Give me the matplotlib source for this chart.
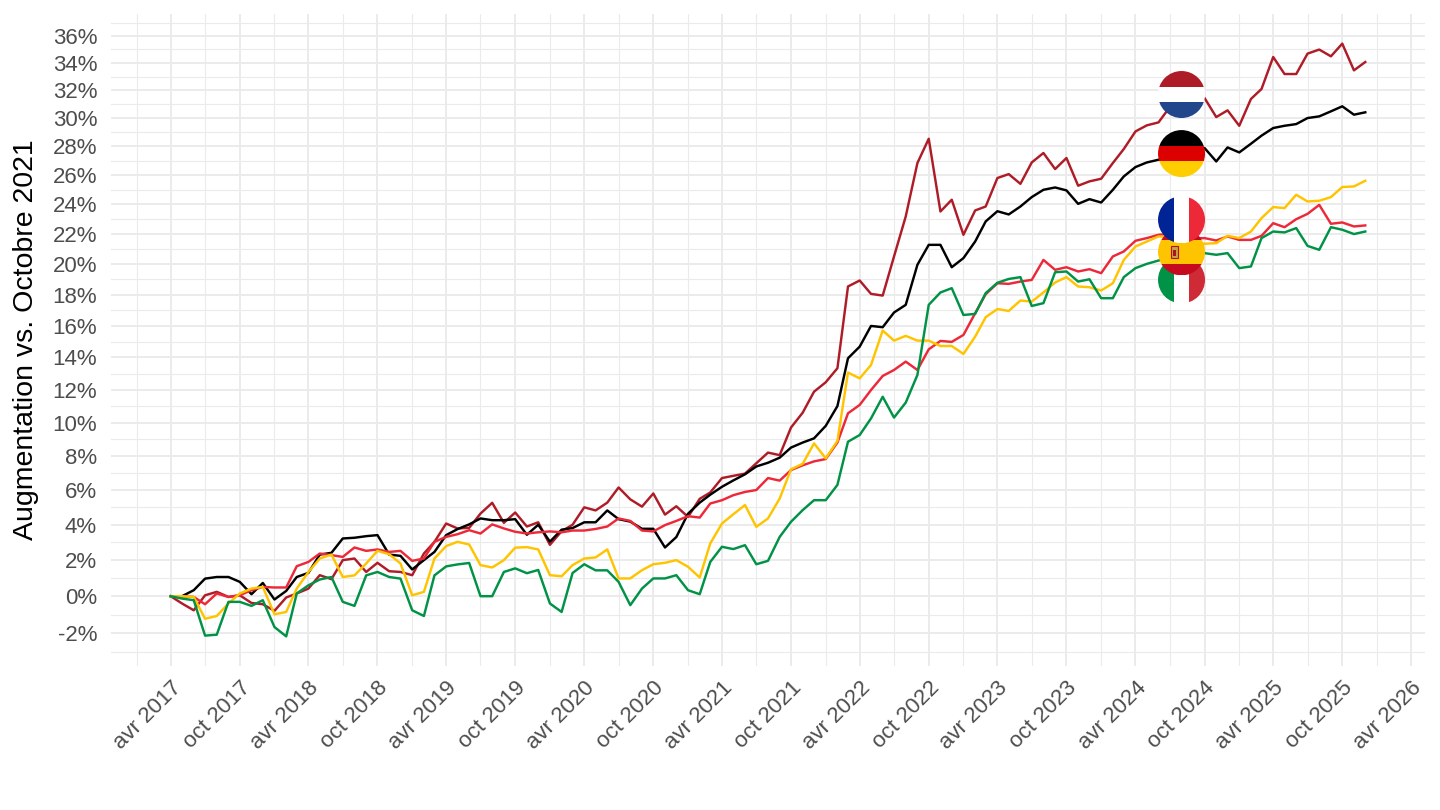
import numpy as np
import pandas as pd
import matplotlib
matplotlib.use('Agg')
import matplotlib.pyplot as plt
import matplotlib.dates as mdates
from matplotlib.patches import Rectangle, Circle
from matplotlib.ticker import FixedLocator, FixedFormatter, NullFormatter

plt.rcParams['font.family'] = ['Liberation Sans', 'DejaVu Sans']

# monthly series, % change, Apr 2017 -> Dec 2025
months = pd.date_range('2017-04-01', '2025-12-01', freq='MS')

netherlands = [0, -0.4, -0.77, 0.05, 0.24, -0.04, 0.05, -0.37, -0.44, -0.8,
               -0.07, 0.15, 0.42, 1.16, 0.94, 2.0, 2.09, 1.34, 1.85, 1.38,
               1.34, 1.16, 2.37, 3.03, 4.07, 3.79, 3.82, 4.64, 5.26, 4.11,
               4.7, 3.9, 4.14, 2.86, 3.63, 4.0, 5.0, 4.82, 5.27, 6.15,
               5.46, 5.04, 5.8, 4.58, 5.06, 4.45, 5.49, 5.86, 6.7, 6.83,
               6.96, 7.57, 8.2, 8.05, 9.7, 10.6, 11.88, 12.46, 13.33, 18.53,
               18.92, 18.05, 17.94, 20.5, 23.17, 26.84, 28.54, 23.51, 24.31, 21.94,
               23.58, 23.85, 25.8, 26.07, 25.4, 26.88, 27.54, 26.42, 27.19, 25.27,
               25.57, 25.75, 26.84, 27.82, 29.06, 29.49, 29.7, 30.8, 31.7, 31.9,
               31.45, 30.08, 30.56, 29.46, 31.38, 32.1, 34.44, 33.19, 33.19, 34.69,
               34.99, 34.49, 35.43, 33.46, 34.07]

germany = [0, 0, 0.33, 0.97, 1.06, 1.06, 0.79, 0.11, 0.73, -0.18,
           0.29, 1.06, 1.29, 2.31, 2.41, 3.22, 3.26, 3.35, 3.41, 2.31,
           2.24, 1.48, 2.0, 2.46, 3.41, 3.75, 4.02, 4.36, 4.26, 4.26,
           4.32, 3.43, 4.0, 3.04, 3.72, 3.81, 4.14, 4.14, 4.82, 4.32,
           4.18, 3.77, 3.77, 2.71, 3.3, 4.63, 5.27, 5.73, 6.19, 6.56,
           6.92, 7.38, 7.6, 7.9, 8.5, 8.8, 9.05, 9.8, 11.0, 13.95,
           14.68, 15.99, 15.91, 16.85, 17.34, 19.95, 21.27, 21.27, 19.79, 20.39,
           21.49, 22.84, 23.53, 23.31, 23.85, 24.49, 24.99, 25.15, 24.95, 24.03,
           24.35, 24.12, 24.99, 25.91, 26.56, 26.88, 27.07, 27.3, 27.5, 27.8,
           27.89, 26.95, 27.93, 27.58, 28.19, 28.76, 29.3, 29.46, 29.58, 30.01,
           30.13, 30.49, 30.85, 30.25, 30.42]

france = [0, 0, -0.04, -0.44, 0.15, -0.04, 0.05, 0.33, 0.51, 0.48,
          0.48, 1.66, 1.9, 2.37, 2.28, 2.18, 2.71, 2.52, 2.6, 2.46,
          2.52, 1.96, 2.09, 3.03, 3.31, 3.46, 3.69, 3.5, 4.02, 3.79,
          3.6, 3.5, 3.57, 3.62, 3.57, 3.67, 3.67, 3.76, 3.9, 4.36,
          4.22, 3.67, 3.62, 3.98, 4.22, 4.49, 4.41, 5.22, 5.41, 5.7,
          5.89, 6.0, 6.7, 6.55, 7.17, 7.45, 7.68, 7.82, 8.8, 10.56,
          11.07, 11.98, 12.85, 13.22, 13.74, 13.22, 14.51, 15.04, 14.98, 15.42,
          16.8, 18.03, 18.74, 18.7, 18.85, 18.96, 20.27, 19.62, 19.79, 19.51,
          19.66, 19.4, 20.5, 20.83, 21.54, 21.72, 21.94, 22.0, 21.8, 21.7,
          21.72, 21.56, 21.83, 21.6, 21.6, 21.87, 22.72, 22.45, 22.99, 23.35,
          23.96, 22.68, 22.77, 22.5, 22.57]

spain = [0, 0, -0.04, -1.23, -1.08, -0.4, 0.15, 0.42, 0.51, -0.99,
         -0.86, 0.42, 1.34, 2.09, 2.31, 1.06, 1.15, 1.81, 2.52, 2.33,
         1.81, 0.05, 0.24, 2.09, 2.79, 3.03, 2.88, 1.72, 1.59, 2.0,
         2.7, 2.73, 2.6, 1.16, 1.1, 1.72, 2.09, 2.15, 2.6, 0.98,
         0.98, 1.44, 1.77, 1.85, 2.0, 1.63, 1.03, 2.94, 4.07, 4.6,
         5.13, 3.88, 4.36, 5.51, 7.21, 7.54, 8.75, 7.86, 8.9, 13.06,
         12.7, 13.53, 15.7, 15.06, 15.36, 15.06, 15.06, 14.72, 14.72, 14.22,
         15.31, 16.55, 17.07, 16.95, 17.62, 17.55, 18.14, 18.79, 19.14, 18.53,
         18.48, 18.27, 18.74, 20.27, 21.16, 21.49, 21.83, 21.8, 21.7, 21.5,
         21.34, 21.38, 21.87, 21.72, 22.16, 23.06, 23.81, 23.74, 24.65, 24.19,
         24.24, 24.49, 25.18, 25.22, 25.61]

italy = [0, -0.13, -0.22, -2.14, -2.09, -0.31, -0.31, -0.53, -0.22, -1.68,
         -2.18, 0.15, 0.6, 0.92, 1.06, -0.31, -0.53, 1.15, 1.34, 1.06,
         0.97, -0.77, -1.08, 1.15, 1.65, 1.76, 1.84, 0.0, 0.0, 1.34,
         1.54, 1.27, 1.45, -0.4, -0.86, 1.28, 1.77, 1.43, 1.43, 0.79,
         -0.49, 0.42, 0.98, 0.98, 1.16, 0.33, 0.11, 1.9, 2.75, 2.62,
         2.84, 1.77, 1.96, 3.31, 4.17, 4.84, 5.41, 5.41, 6.3, 8.85,
         9.25, 10.25, 11.57, 10.3, 11.21, 12.91, 17.34, 18.14, 18.42, 16.69,
         16.76, 18.1, 18.77, 19.02, 19.14, 17.27, 17.45, 19.46, 19.51, 18.85,
         19.0, 17.77, 17.77, 19.14, 19.73, 20.01, 20.23, 20.4, 20.6, 20.7,
         20.72, 20.61, 20.72, 19.73, 19.84, 21.72, 22.16, 22.1, 22.39, 21.2,
         20.94, 22.45, 22.28, 21.99, 22.16]

series = [netherlands, germany, france, spain, italy]
colors = ['#AE1C28', '#000000', '#ED2939', '#FFC400', '#009246']

# flags: where they sit on the chart
flag_date = pd.Timestamp('2024-08-01')
flag_values = [31.7, 27.5, 22.95, 20.8, 18.96]
flag_stripes = [
    ('h', ['#AE1C28', '#FFFFFF', '#21468B'], [1, 1, 1]),
    ('h', ['#000000', '#DD0000', '#FFCE00'], [1, 1, 1]),
    ('v', ['#002395', '#FFFFFF', '#ED2939'], [1, 1, 1]),
    ('h', ['#C60B1E', '#FFC400', '#C60B1E'], [1, 2, 1]),
    ('v', ['#009246', '#FFFFFF', '#CE2B37'], [1, 1, 1]),
]
# bottom flag drawn first, top flag last
flag_order = [4, 3, 2, 1, 0]

W, H = 1440, 810
fig = plt.figure(figsize=(W / 100, H / 100), dpi=100)
ax = fig.add_axes([111 / W, 1 - 666 / H, (1425 - 111) / W, (666 - 14) / H])

x = mdates.date2num(months)
for vals, col in zip(series, colors):
    ax.plot(x, 1 + np.array(vals) / 100, color=col, lw=1.75, solid_joinstyle='round', zorder=3)

# ggplot-like 5% expansion
x0, x1 = x.min(), x.max()
ax.set_xlim(x0 - 0.05 * (x1 - x0), x1 + 0.05 * (x1 - x0))
ax.set_yscale('log')
allv = np.log(1 + np.concatenate([np.array(s) for s in series]) / 100)
lo, hi = allv.min(), allv.max()
ax.set_ylim(np.exp(lo - 0.05 * (hi - lo)), np.exp(hi + 0.05 * (hi - lo)))

ypct = list(range(-2, 37, 2))
ax.yaxis.set_major_locator(FixedLocator([1 + p / 100 for p in ypct]))
ax.yaxis.set_major_formatter(FixedFormatter([f'{p}%' for p in ypct]))
ax.yaxis.set_minor_locator(FixedLocator([1 + p / 100 for p in range(-3, 38, 2)]))
ax.yaxis.set_minor_formatter(NullFormatter())

month_names = {4: 'avr', 10: 'oct'}
xticks = pd.date_range('2017-04-01', '2026-04-01', freq='6MS')
ax.xaxis.set_major_locator(FixedLocator(mdates.date2num(xticks)))
ax.xaxis.set_major_formatter(FixedFormatter([f'{month_names[d.month]} {d.year}' for d in xticks]))
xminor = pd.date_range('2017-01-01', '2026-07-01', freq='6MS')
ax.xaxis.set_minor_locator(FixedLocator(mdates.date2num(xminor)))

ax.grid(which='major', color='#EBEBEB', lw=1.4)
ax.grid(which='minor', color='#EBEBEB', lw=0.8)
ax.set_axisbelow(True)
for s in ax.spines.values():
    s.set_visible(False)
ax.tick_params(which='both', length=0)
ax.tick_params(axis='y', labelsize=16, labelcolor='#4D4D4D', pad=10)
ax.tick_params(axis='x', labelsize=16, labelcolor='#4D4D4D', pad=8)
for lab in ax.get_xticklabels():
    lab.set_rotation(45)
    lab.set_ha('right')
    lab.set_rotation_mode('anchor')

ax.set_ylabel('Augmentation vs. Octobre 2021', fontsize=20.5, color='black', labelpad=10)

# round flags on top of the lines
r = 23.5
fx = mdates.date2num(flag_date)
for k in flag_order:
    cx, cy = ax.transData.transform((fx, 1 + flag_values[k] / 100))
    fax = fig.add_axes([(cx - r) / W, (cy - r) / H, 2 * r / W, 2 * r / H])
    fax.set_xlim(0, 1)
    fax.set_ylim(0, 1)
    fax.axis('off')
    circ = Circle((0.5, 0.5), 0.5, transform=fax.transData)
    orient, cols, weights = flag_stripes[k]
    edges = np.cumsum([0] + weights) / sum(weights)
    for j, c in enumerate(cols):
        if orient == 'h':
            rect = Rectangle((0, 1 - edges[j + 1]), 1, edges[j + 1] - edges[j], color=c, lw=0)
        else:
            rect = Rectangle((edges[j], 0), edges[j + 1] - edges[j], 1, color=c, lw=0)
        fax.add_patch(rect)
        rect.set_clip_path(circ)
    if k == 3:
        # small coat of arms
        fax.add_patch(Rectangle((0.27, 0.36), 0.15, 0.26, facecolor='#C8A04A', edgecolor='#AD1519', lw=0.8))
        fax.add_patch(Rectangle((0.31, 0.42), 0.07, 0.12, color='#AD1519', lw=0))

fig.savefig('out.png', dpi=100)
